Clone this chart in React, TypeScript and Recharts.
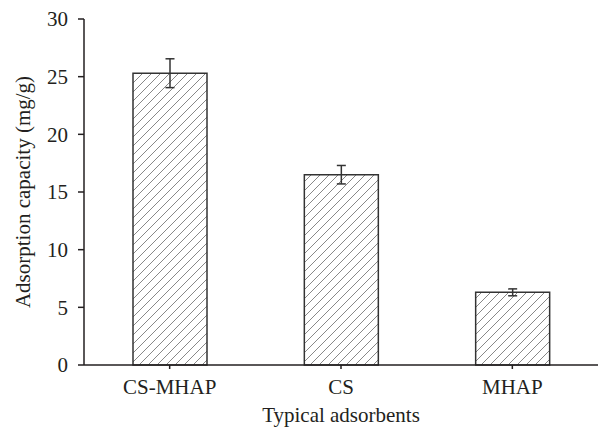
import React from 'react';
import { BarChart, Bar, XAxis, YAxis, ErrorBar } from 'recharts';

// Adsorbent types and their measured capacities (mg/g) with error
const adsorbents = ['CS-MHAP', 'CS', 'MHAP'];
const capacity = [25.3, 16.5, 6.3];
const capacityError = [1.25, 0.8, 0.3];
const yTicks = [0, 5, 10, 15, 20, 25, 30];

const data = adsorbents.map((name, i) => ({
  name,
  capacity: capacity[i],
  err: capacityError[i],
}));

const FONT = '"Liberation Serif", "DejaVu Serif", serif';
const INK = '#231f20';
const FS = 21;

export default function App() {
  return (
    <div style={{ position: 'absolute', left: 0, top: 0, background: '#fff' }}>
      <BarChart
        width={598}
        height={429}
        data={data}
        margin={{ top: 19, right: 0, left: 0, bottom: 34 }}
        barSize={74}
      >
        <defs>
          <pattern id="hatch" patternUnits="userSpaceOnUse" width={9} height={9}>
            <path
              d="M-2,2 L2,-2 M0,9 L9,0 M7,11 L11,7"
              stroke="#7a7a7a"
              strokeWidth={0.9}
            />
          </pattern>
        </defs>
        <XAxis
          dataKey="name"
          height={30}
          stroke={INK}
          strokeWidth={1.5}
          tickSize={4}
          tickMargin={10}
          tick={{ fill: INK, fontSize: FS, fontFamily: FONT }}
          label={{
            value: 'Typical adsorbents',
            position: 'bottom',
            offset: 12,
            style: { fill: INK, fontSize: FS, fontFamily: FONT },
          }}
        />
        <YAxis
          width={84}
          domain={[0, 30]}
          ticks={yTicks}
          interval={0}
          stroke={INK}
          strokeWidth={1.5}
          tickSize={6}
          tickMargin={10}
          tick={{ fill: INK, fontSize: FS, fontFamily: FONT }}
          label={{
            value: 'Adsorption capacity (mg/g)',
            angle: -90,
            position: 'insideLeft',
            offset: 23,
            dx: 0,
            style: { fill: INK, fontSize: FS, fontFamily: FONT, textAnchor: 'middle' },
          }}
        />
        <Bar
          dataKey="capacity"
          fill="url(#hatch)"
          stroke="#333"
          strokeWidth={1.5}
          isAnimationActive={false}
        >
          <ErrorBar
            dataKey="err"
            width={4.5}
            stroke="#333"
            strokeWidth={1.5}
            isAnimationActive={false}
          />
        </Bar>
      </BarChart>
    </div>
  );
}
